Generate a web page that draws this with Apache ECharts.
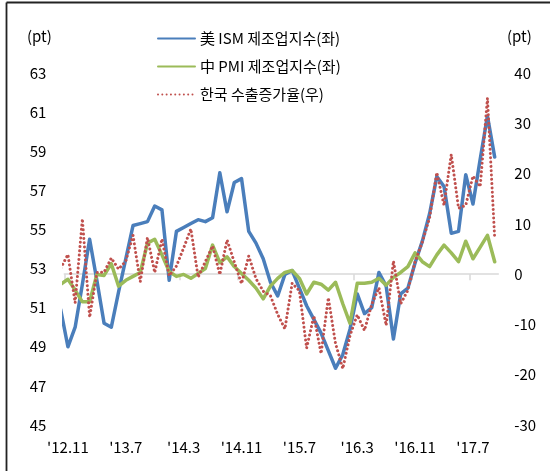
<!DOCTYPE html>
<html>
<head>
<meta charset="utf-8">
<script src="https://cdn.jsdelivr.net/npm/echarts@6/dist/echarts.min.js"></script>
<style>
html,body{margin:0;padding:0;background:#fff;}
#chart{width:550px;height:471px;}
</style>
</head>
<body>
<div id="chart"></div>
<script>
// Months (first one, 2012.10, lies just left of the axis and is clipped)
const months = ['2012.10','2012.11','2012.12',
 '2013.01','2013.02','2013.03','2013.04','2013.05','2013.06','2013.07','2013.08','2013.09','2013.10','2013.11','2013.12',
 '2014.01','2014.02','2014.03','2014.04','2014.05','2014.06','2014.07','2014.08','2014.09','2014.10','2014.11','2014.12',
 '2015.01','2015.02','2015.03','2015.04','2015.05','2015.06','2015.07','2015.08','2015.09','2015.10','2015.11','2015.12',
 '2016.01','2016.02','2016.03','2016.04','2016.05','2016.06','2016.07','2016.08','2016.09','2016.10','2016.11','2016.12',
 '2017.01','2017.02','2017.03','2017.04','2017.05','2017.06','2017.07','2017.08','2017.09','2017.10'];
const tickLabels = ["'12.11","'13.7","'14.3","'14.11","'15.7","'16.3","'16.11","'17.7"];
const leftTicks = [45,47,49,51,53,55,57,59,61,63];
const rightTicks = [-30,-20,-10,0,10,20,30,40];

// 美 ISM 제조업지수 (left axis)
const ismUS = [50.9,
 49.0,50.0,
 52.2,54.5,52.4,50.2,50.0,51.8,53.5,55.2,55.3,55.4,56.2,56.0,
 52.4,54.9,55.1,55.3,55.5,55.4,55.6,57.9,55.9,57.4,57.6,54.9,
 54.3,53.5,52.3,51.6,52.7,52.9,52.0,51.1,50.4,49.7,48.8,47.9,
 48.6,49.9,51.7,50.7,51.0,52.8,52.1,49.4,51.7,52.0,53.3,54.4,
 55.8,57.7,57.2,54.8,54.9,57.8,56.3,58.6,60.8,58.7];
// 中 PMI 제조업지수 (left axis)
const pmiChina = [52.2,
 52.45,51.9,
 51.3,51.3,52.7,52.65,53.25,52.1,52.4,52.6,52.8,54.3,54.5,53.7,
 52.85,52.6,52.7,52.5,52.75,53.0,54.2,53.3,53.6,53.1,52.75,52.4,
 52.0,51.45,52.1,52.5,52.8,52.9,52.5,51.7,52.3,52.2,51.9,52.3,
 51.2,50.2,52.25,52.25,52.3,52.5,52.15,52.55,52.8,53.1,53.8,53.35,
 53.1,53.7,54.2,53.8,53.35,54.4,53.5,54.1,54.7,53.35];
// 한국 수출증가율 (right axis, %)
const exportKR = [1.2,
 3.9,-5.7,
 11.0,-8.6,0.3,0.4,3.2,1.0,2.6,7.7,-1.5,7.3,0.3,7.0,
 -0.3,1.6,5.2,9.0,-0.6,2.5,5.6,-0.1,6.8,2.4,-1.9,3.6,
 -0.9,-3.4,-4.3,-8.0,-10.9,-1.8,-3.3,-14.7,-8.3,-15.8,-4.7,-13.8,
 -18.8,-12.2,-8.1,-11.2,-6.0,-2.7,-10.2,2.6,-5.9,-3.2,2.5,6.4,
 11.2,20.2,13.7,23.8,13.1,13.7,19.5,17.4,35.0,7.1];

const seriesNames = ['美 ISM 제조업지수(좌)','中 PMI 제조업지수(좌)','한국 수출증가율(우)'];
const FONT = '"Noto Sans CJK KR", "Noto Sans", sans-serif';

// x position: 2012.11 is the centre of the first month slot (0.5)
function pts(arr){ return arr.map((v,k)=>[k-0.5, v]); }

const chart = echarts.init(document.getElementById('chart'), null, {renderer:'canvas'});
chart.setOption({
  animation:false,
  backgroundColor:'#fff',
  textStyle:{fontFamily:FONT},
  grid:{left:64.3, right:51.7, top:73, bottom:46},
  legend:{
    orient:'vertical', left:152, top:26,
    itemWidth:37, itemHeight:14, itemGap:13,
    itemStyle:{opacity:0},
    textStyle:{fontFamily:FONT, fontSize:15, color:'#000'},
    data:seriesNames
  },
  xAxis:{
    type:'value', min:0, max:60, interval:8,
    splitLine:{show:false},
    axisLine:{show:true, lineStyle:{color:'#d9d9d9', width:1.5}},
    axisTick:{show:true, length:6, lineStyle:{color:'#d9d9d9', width:1.5},
      customValues: tickLabels.map((t,j)=>j*8)},
    axisLabel:{show:true, margin:15, fontFamily:FONT, fontSize:15, color:'#000',
      customValues: tickLabels.map((t,j)=>j*8+0.5),
      formatter:(v)=> tickLabels[Math.round((v-0.5)/8)] || ''}
  },
  yAxis:[{
    type:'value', min:leftTicks[0], max:leftTicks[leftTicks.length-1], interval:2,
    splitLine:{show:false}, axisLine:{show:false}, axisTick:{show:false},
    axisLabel:{margin:18, fontFamily:FONT, fontSize:15, color:'#000'}
  },{
    type:'value', min:rightTicks[0], max:rightTicks[rightTicks.length-1], interval:10,
    splitLine:{show:false}, axisLine:{show:false}, axisTick:{show:false},
    axisLabel:{margin:16, fontFamily:FONT, fontSize:15, color:'#000', align:'left'}
  }],
  series:[{
    name:seriesNames[0], type:'line', yAxisIndex:0, data:pts(ismUS),
    symbol:'none', showSymbol:false, clip:true,
    lineStyle:{color:'#4A7EBB', width:3.5, join:'round', cap:'round'},
    itemStyle:{color:'#4A7EBB'}
  },{
    name:seriesNames[1], type:'line', yAxisIndex:0, data:pts(pmiChina),
    symbol:'none', showSymbol:false, clip:true,
    lineStyle:{color:'#9BBB59', width:3.5, join:'round', cap:'round'},
    itemStyle:{color:'#9BBB59'}
  },{
    name:seriesNames[2], type:'line', yAxisIndex:1, data:pts(exportKR),
    symbol:'none', showSymbol:false, clip:true,
    lineStyle:{color:'#C0504D', width:3, type:[0.01,4.3], cap:'round', join:'round'},
    itemStyle:{color:'#C0504D'}
  }],
  graphic:[
    {type:'line', shape:{x1:6.5, y1:2.5, x2:550, y2:2.5}, style:{stroke:'#222', lineWidth:1.8}},
    {type:'line', shape:{x1:6.5, y1:2.5, x2:6.5, y2:471}, style:{stroke:'#222', lineWidth:1.8}},
    {type:'text', left:27, top:29, style:{text:'(pt)', font:'15px '+FONT, fill:'#000'}},
    {type:'text', left:507, top:29, style:{text:'(pt)', font:'15px '+FONT, fill:'#000'}}
  ]
});
</script>
</body>
</html>
